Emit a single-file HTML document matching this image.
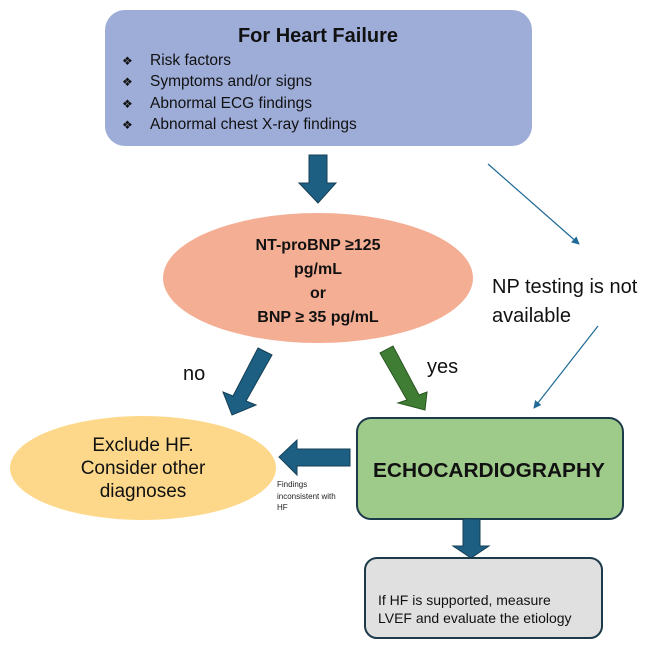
<!DOCTYPE html>
<html><head><meta charset="utf-8"><style>
html,body{margin:0;padding:0;background:#fff;}
svg{display:block;font-family:"Liberation Sans",sans-serif;}
</style></head><body>
<svg width="658" height="648" viewBox="0 0 658 648" xmlns="http://www.w3.org/2000/svg">
<defs>
<marker id="ah" markerWidth="8" markerHeight="8" refX="7" refY="4" orient="auto" markerUnits="userSpaceOnUse">
<path d="M0,0 L8,4 L0,8 Z" fill="#1f6a96"/></marker>
</defs>
<rect x="105" y="10" width="427" height="136" rx="20" fill="#9eadd8"/>
<text x="318" y="42" font-size="20" font-weight="bold" text-anchor="middle" fill="#111">For Heart Failure</text>
<g font-size="15.5" fill="#111">
<text x="122" y="65" font-size="12">❖</text><text x="150" y="65">Risk factors</text>
<text x="122" y="86" font-size="12">❖</text><text x="150" y="86">Symptoms and/or signs</text>
<text x="122" y="108" font-size="12">❖</text><text x="150" y="108">Abnormal ECG findings</text>
<text x="122" y="129" font-size="12">❖</text><text x="150" y="129">Abnormal chest X-ray findings</text>
</g>
<polygon points="309,155 327,155 327,183 336,183 318,203 299,183 309,183" fill="#1d5f82" stroke="#153f55" stroke-width="1"/>
<ellipse cx="318" cy="278" rx="155" ry="65" fill="#f4ae94"/>
<g font-size="16" font-weight="bold" text-anchor="middle" fill="#111">
<text x="318" y="250">NT-proBNP ≥125</text>
<text x="318" y="274">pg/mL</text>
<text x="318" y="298">or</text>
<text x="318" y="322">BNP ≥ 35 pg/mL</text>
</g>
<line x1="488" y1="164" x2="579" y2="244" stroke="#1f6a96" stroke-width="1.2" marker-end="url(#ah)"/>
<line x1="598" y1="326" x2="534" y2="408" stroke="#1f6a96" stroke-width="1.2" marker-end="url(#ah)"/>
<text x="492" y="293" font-size="20" fill="#111">NP testing is not</text>
<text x="492" y="322" font-size="20" fill="#111">available</text>
<polygon points="258,348 272,355 246,401 256,405 232,415 223,392 233,396" fill="#1d5f82" stroke="#153f55" stroke-width="1"/>
<polygon points="380,353 393,346 419,395 427,392 425,410 398,403 407,400" fill="#3e7d33" stroke="#2a5522" stroke-width="1"/>
<text x="183" y="380" font-size="20" fill="#111">no</text>
<text x="427" y="373" font-size="20" fill="#111">yes</text>
<ellipse cx="143" cy="468" rx="133" ry="52" fill="#fdd88a"/>
<g font-size="19" text-anchor="middle" fill="#111">
<text x="143" y="451">Exclude HF.</text>
<text x="143" y="474">Consider other</text>
<text x="143" y="497">diagnoses</text>
</g>
<rect x="357" y="418" width="266" height="101" rx="14" fill="#9fcb8a" stroke="#1d3a4a" stroke-width="2"/>
<text x="373" y="477" font-size="20" font-weight="bold" fill="#111" textLength="232" lengthAdjust="spacingAndGlyphs">ECHOCARDIOGRAPHY</text>
<polygon points="350,449 350,466 297,466 297,475 279,457 297,440 297,449" fill="#1d5f82" stroke="#153f55" stroke-width="1"/>
<g font-size="8" fill="#222">
<text x="277" y="487">Findings</text>
<text x="277" y="499">inconsistent with</text>
<text x="277" y="510">HF</text>
</g>
<polygon points="463,519 480,519 480,546 489,546 471,558 453,546 463,546" fill="#1d5f82" stroke="#153f55" stroke-width="1"/>
<rect x="365" y="558" width="237" height="80" rx="12" fill="#e0e0e0" stroke="#1d3a4a" stroke-width="2"/>
<text x="378" y="605" font-size="14" fill="#111">If HF is supported, measure</text>
<text x="378" y="623" font-size="14" fill="#111">LVEF and evaluate the etiology</text>
</svg>
</body></html>
